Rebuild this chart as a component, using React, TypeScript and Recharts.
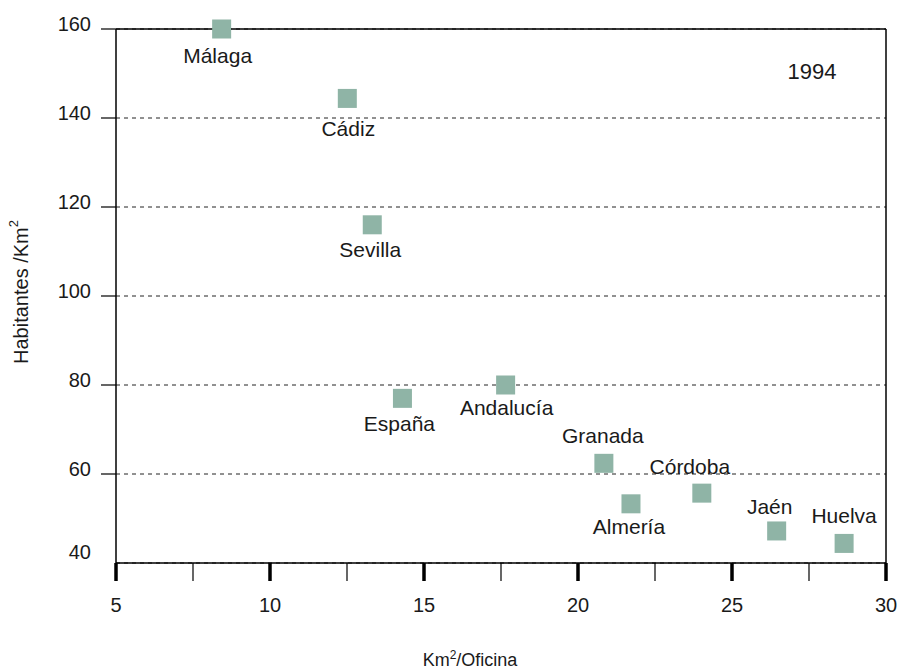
import React from "react";
import {
  ScatterChart,
  Scatter,
  XAxis,
  YAxis,
  CartesianGrid,
  ReferenceLine,
} from "recharts";

// Provincias andaluzas, 1994
const places = [
  "Málaga",
  "Cádiz",
  "Sevilla",
  "España",
  "Andalucía",
  "Granada",
  "Almería",
  "Córdoba",
  "Jaén",
  "Huelva",
];
const kmPerOffice = [8.43, 12.51, 13.32, 14.3, 17.65, 20.84, 21.72, 24.02, 26.45, 28.64];
const inhabitantsPerKm2 = [160, 144.4, 116, 77, 80, 62.4, 53.3, 55.7, 47.2, 44.4];

const xTicks = [5, 7.5, 10, 12.5, 15, 17.5, 20, 22.5, 25, 27.5, 30];
const yTicks = [40, 60, 80, 100, 120, 140, 160];

const data = places.map((name, i) => ({
  name,
  x: kmPerOffice[i],
  y: inhabitantsPerKm2[i],
}));

// where each name sits relative to its marker (label centre offset)
const labelOffset: Record<string, { dx: number; dy: number }> = {
  "Málaga": { dx: -4, dy: 26 },
  "Cádiz": { dx: 1, dy: 30 },
  "Sevilla": { dx: -2, dy: 25 },
  "España": { dx: -3, dy: 25 },
  "Andalucía": { dx: 1, dy: 22 },
  "Granada": { dx: -1, dy: -28 },
  "Almería": { dx: -2, dy: 23 },
  "Córdoba": { dx: -12, dy: -27 },
  "Jaén": { dx: -7, dy: -24 },
  "Huelva": { dx: 0, dy: -28 },
};

const FONT = "'Liberation Sans', Arial, sans-serif";
const INK = "#1a1a1a";
const MARKER = "#8fb4a6";

const SquareLabel = (props: any) => {
  const { cx, cy, payload } = props;
  const off = labelOffset[payload.name] || { dx: 0, dy: 25 };
  const s = 19;
  return (
    <g>
      <rect x={cx - s / 2} y={cy - s / 2} width={s} height={s} fill={MARKER} />
      <text
        x={cx + off.dx}
        y={cy + off.dy + 7.5}
        textAnchor="middle"
        fontFamily={FONT}
        fontSize={21}
        fill={INK}
      >
        {payload.name}
      </text>
    </g>
  );
};

const XTick = (props: any) => {
  const { x, y, payload } = props;
  const major = payload.value % 5 === 0;
  return (
    <g>
      <line x1={x} x2={x} y1={y} y2={y + 18} stroke="#000" strokeWidth={major ? 3.5 : 1.2} />
      {major && (
        <text x={x} y={y + 49} textAnchor="middle" fontFamily={FONT} fontSize={20} fill={INK}>
          {payload.value}
        </text>
      )}
    </g>
  );
};

const YTick = (props: any) => {
  const { x, y, payload } = props;
  const bottom = payload.value === 40;
  return (
    <g>
      {!bottom && <line x1={x - 15} x2={x} y1={y} y2={y} stroke="#000" strokeWidth={1.2} />}
      <text
        x={x - 25}
        y={bottom ? y - 4 : y + 2}
        textAnchor="end"
        fontFamily={FONT}
        fontSize={20}
        fill={INK}
      >
        {payload.value}
      </text>
    </g>
  );
};

export default function App() {
  return (
    <div style={{ position: "absolute", left: 0, top: 0, background: "#fff" }}>
      <ScatterChart
        width={899}
        height={670}
        margin={{ top: 29, right: 13, left: 0, bottom: 27 }}
      >
        <CartesianGrid
          vertical={false}
          stroke="#222"
          strokeWidth={1}
          strokeDasharray="4 4"
        />
        <XAxis
          type="number"
          dataKey="x"
          domain={[5, 30]}
          ticks={xTicks}
          interval={0}
          height={80}
          tickSize={0}
          tickMargin={0}
          axisLine={{ stroke: "#000", strokeWidth: 1.5 }}
          tick={<XTick />}
          label={{
            content: (p: any) => {
              const vb = p.viewBox;
              return (
                <text
                  x={vb.x + vb.width / 2 - 31}
                  y={vb.y + 103}
                  textAnchor="middle"
                  fontFamily={FONT}
                  fontSize={18}
                  fill={INK}
                >
                  Km
                  <tspan fontSize={12} dy={-7}>2</tspan>
                  <tspan dy={7}>/Oficina</tspan>
                </text>
              );
            },
          }}
        />
        <YAxis
          type="number"
          dataKey="y"
          domain={[40, 160]}
          ticks={yTicks}
          interval={0}
          width={116}
          tickSize={0}
          tickMargin={0}
          axisLine={{ stroke: "#000", strokeWidth: 1.5 }}
          tick={<YTick />}
          label={{
            content: (p: any) => {
              const vb = p.viewBox;
              const cx = 21;
              const cy = vb.y + vb.height / 2 - 4;
              return (
                <text
                  x={cx}
                  y={cy}
                  transform={`rotate(-90 ${cx} ${cy})`}
                  textAnchor="middle"
                  dominantBaseline="central"
                  fontFamily={FONT}
                  fontSize={20}
                  fill={INK}
                >
                  Habitantes /Km
                  <tspan fontSize={13} dy={-8}>2</tspan>
                </text>
              );
            },
          }}
        />
        <ReferenceLine y={160} stroke="#000" strokeWidth={1.5} />
        <ReferenceLine
          x={30}
          stroke="#000"
          strokeWidth={1.5}
          label={{
            content: (p: any) => {
              const vb = p.viewBox;
              return (
                <text
                  x={vb.x - 74}
                  y={vb.y + 50}
                  textAnchor="middle"
                  fontFamily={FONT}
                  fontSize={22}
                  fill={INK}
                >
                  1994
                </text>
              );
            },
          }}
        />
        <Scatter data={data} shape={<SquareLabel />} isAnimationActive={false} />
      </ScatterChart>
    </div>
  );
}
